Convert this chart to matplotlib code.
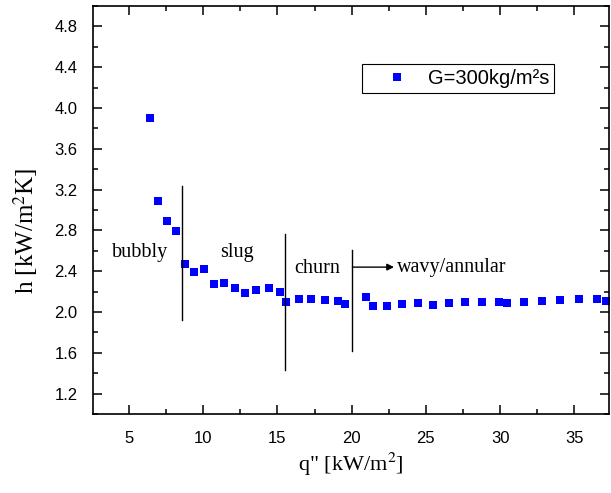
import matplotlib
matplotlib.use("Agg")
import matplotlib.pyplot as plt
from matplotlib.ticker import MultipleLocator

plt.rcParams["mathtext.fontset"] = "stix"

# Data
q = [6.43, 6.97, 7.54, 8.16, 8.77, 9.39, 10.03, 10.70, 11.39, 12.11, 12.85, 13.59,
     14.40, 15.18, 15.61, 16.44, 17.29, 18.19, 19.09, 19.54, 20.95, 21.42, 22.41,
     23.42, 24.45, 25.50, 26.56, 27.66, 28.78, 29.92, 30.46, 31.60, 32.81, 34.02,
     35.28, 36.54, 37.15]
h = [3.90, 3.085, 2.89, 2.79, 2.47, 2.39, 2.42, 2.27, 2.28, 2.24, 2.19, 2.22,
     2.24, 2.20, 2.10, 2.13, 2.13, 2.12, 2.11, 2.08, 2.15, 2.06, 2.06,
     2.08, 2.09, 2.07, 2.09, 2.10, 2.10, 2.10, 2.09, 2.10, 2.11, 2.12,
     2.13, 2.13, 2.11]
series_label = "G=300kg/m\u00b2s"

# regime boundaries: (x, y_bottom, y_top)
boundaries_x = [8.55, 15.5, 20.05]
boundaries_ybot = [1.92, 1.435, 1.615]
boundaries_ytop = [3.24, 2.76, 2.605]
regime_names = ["bubbly", "slug", "churn", "wavy/annular"]
regime_x = [5.74, 12.25, 16.12, 23.06]
regime_y = [2.54, 2.54, 2.38, 2.39]
regime_ha = ["center", "center", "left", "left"]

xticks = [5, 10, 15, 20, 25, 30, 35]
yticks = [1.2, 1.6, 2.0, 2.4, 2.8, 3.2, 3.6, 4.0, 4.4, 4.8]

fig = plt.figure(figsize=(6.11, 4.93), dpi=100)
ax = fig.add_axes([93/611, (493-414)/493, 516/611, 408/493])

serif = ["Liberation Serif", "DejaVu Serif"]
sans = ["Liberation Sans", "DejaVu Sans"]

ax.plot(q, h, linestyle="none", marker="s", markersize=5.3, color="#0000ff",
        markeredgewidth=0, label=series_label)

for x, yb, yt in zip(boundaries_x, boundaries_ybot, boundaries_ytop):
    ax.plot([x, x], [yb, yt], color="black", lw=1.0)

for name, x, y, ha in zip(regime_names, regime_x, regime_y, regime_ha):
    ax.text(x, y, name, ha=ha, va="baseline", fontsize=14.5, family=serif)

ax.annotate("", xy=(22.85, 2.44), xytext=(20.05, 2.44),
            arrowprops=dict(arrowstyle="-|>", color="black", lw=1.0,
                            mutation_scale=10, shrinkA=0, shrinkB=0))

ax.set_xlim(2.58, 37.33)
ax.set_ylim(1.0, 5.0)
ax.set_xticks(xticks)
ax.set_yticks(yticks)
ax.set_yticklabels([f"{v:.1f}" for v in yticks])
ax.xaxis.set_minor_locator(MultipleLocator(2.5))
ax.yaxis.set_minor_locator(MultipleLocator(0.2))
ax.tick_params(which="both", direction="in", top=True, right=True, width=1.1)
ax.tick_params(which="major", length=6.5)
ax.tick_params(which="minor", length=3.5)
ax.tick_params(axis="y", which="major", pad=11, labelsize=12)
ax.tick_params(axis="x", which="major", pad=12, labelsize=12)
for lab in ax.get_xticklabels() + ax.get_yticklabels():
    lab.set_family(sans)
for s in ax.spines.values():
    s.set_linewidth(1.2)

ax.set_xlabel('q" [kW/m$^2$]', fontsize=16, family=serif)
ax.set_ylabel("h [kW/m$^2$K]", fontsize=18, family=serif)
ax.xaxis.set_label_coords(0.5, -0.09)
ax.yaxis.set_label_coords(-0.103, 0.45)

leg = ax.legend(loc="upper left", bbox_to_anchor=(0.522, 0.858), borderaxespad=0,
                fancybox=False, edgecolor="black", framealpha=1,
                prop={"family": sans, "size": 14.5}, handlelength=2.95,
                handletextpad=0.05, borderpad=0.25, markerscale=1.0)
leg.get_frame().set_linewidth(0.8)

fig.savefig("out.png", dpi=100)
